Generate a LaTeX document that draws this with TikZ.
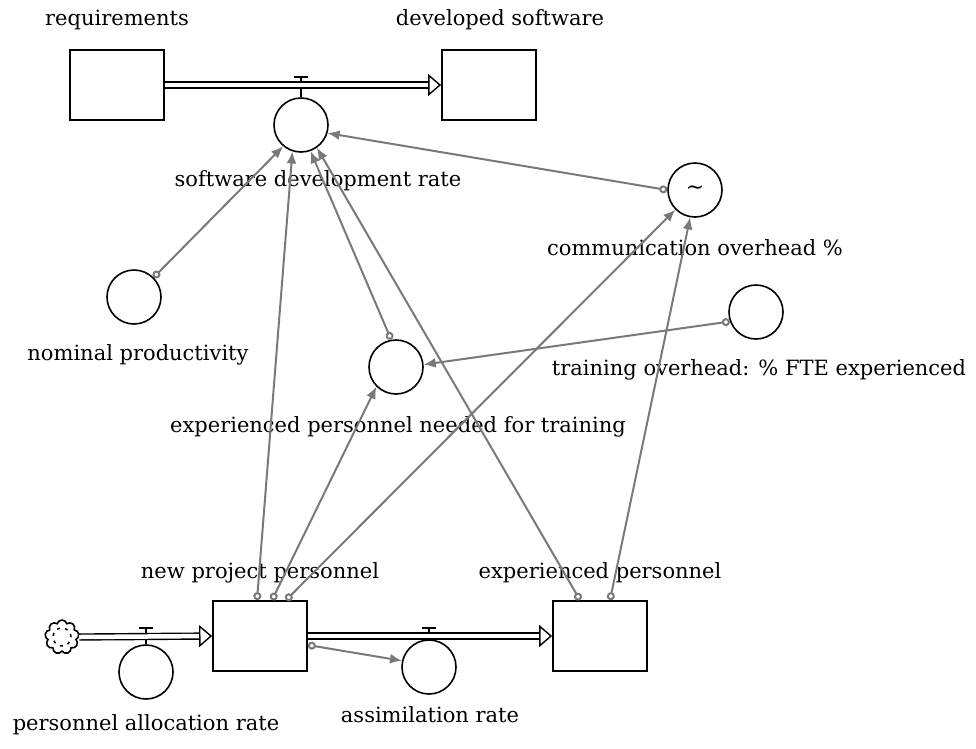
\documentclass[tikz,border=0pt]{standalone}
\usepackage{fontspec}
\setmainfont{DejaVu Serif}
\usetikzlibrary{arrows.meta,shapes.symbols}

\begin{document}
\begin{tikzpicture}
  [x=1pt,y=-1pt,
   stock/.style={draw,line width=1.8pt,minimum width=94pt,minimum height=70pt},
   aux/.style={circle,draw,line width=1.6pt,minimum size=54pt,inner sep=0pt},
   txt/.style={font=\fontsize{21}{24}\selectfont},
   pipe/.style={double=white,double distance=4.5pt,line width=1.4pt,
     -{Triangle[open,length=13pt,width=22pt]}},
   link/.style={draw=gray!95!black,line width=2pt,
     {Circle[open,length=8pt]}-{Latex[length=12pt,width=10pt]}},
   valve/.style={line width=1.6pt}]
  \useasboundingbox (0,0) rectangle (976,748);

  % labels
  \node[txt] (lreq)   at (117,20)  {requirements};
  \node[txt] (ldev)   at (500,20)  {developed software};
  \node[txt] (lsdr)   at (318,181) {software development rate};
  \node[txt] (lcomm)  at (695,248) {communication overhead \%};
  \node[txt] (lnom)   at (138,355) {nominal productivity};
  \node[txt] (ltrain) at (759,370) {training overhead: \% FTE experienced};
  \node[txt] (lepn)   at (398,427) {experienced personnel needed for training};
  \node[txt] (lnpp)   at (260,573) {new project personnel};
  \node[txt] (lexp)   at (600,573) {experienced personnel};
  \node[txt] (lpar)   at (146,725) {personnel allocation rate};
  \node[txt] (lass)   at (430,715) {assimilation rate};

  % stocks, rates and auxiliaries
  \node[stock] (req)   at (117,85)  {};
  \node[stock] (dev)   at (489,85)  {};
  \node[stock] (npp)   at (260,636) {};
  \node[stock] (exp)   at (600,636) {};
  \node[aux]   (sdr)   at (301,125) {};
  \node[aux]   (par)   at (146,672) {};
  \node[aux]   (assim) at (429,667) {};
  \node[aux]   (nom)   at (134,297) {};
  \node[aux]   (comm)  at (695,190) {\raisebox{-6pt}{\fontsize{22}{22}\selectfont\textasciitilde}};
  \node[aux]   (train) at (756,312) {};
  \node[aux]   (epn)   at (396,367) {};
  \node[cloud,draw,line width=1.6pt,cloud puffs=9,minimum width=34pt,
    minimum height=34pt,inner sep=0pt] (src) at (62,637) {};
  \draw[dash pattern=on 3pt off 5pt,line width=1.5pt] (src) circle (9pt);

  % valves
  \foreach \v/\p in {sdr/85,par/636,assim/636}
    \draw[valve] (\v.north) -- (\v.north |- 0,{\p-8}) coordinate (top)
      ([xshift=-7pt]top) -- ([xshift=7pt]top);

  % flows
  \draw[pipe] (req.east) -- (dev.west);
  \draw[pipe] (src.east) -- (npp.west);
  \draw[pipe] (npp.east) -- (exp.west);

  % information links
  \draw[link] (nom.45) -- (sdr.230);
  \draw[link] ([xshift=-3pt]npp.north) -- (sdr.252);
  \draw[link] ([xshift=12pt]npp.north) -- (epn.225);
  \draw[link] ([xshift=26pt]npp.north) -- (comm.225);
  \draw[link] (epn.100) -- (sdr.290);
  \draw[link] ([xshift=-20pt]exp.north) -- (sdr.305);
  \draw[link] ([xshift=10pt]exp.north) -- (comm.260);
  \draw[link] (comm.180) -- (sdr.343);
  \draw[link] (train.200) -- (epn.5);
  \draw[link] ([yshift=-9pt]npp.east) -- (assim.167);
\end{tikzpicture}
\end{document}
